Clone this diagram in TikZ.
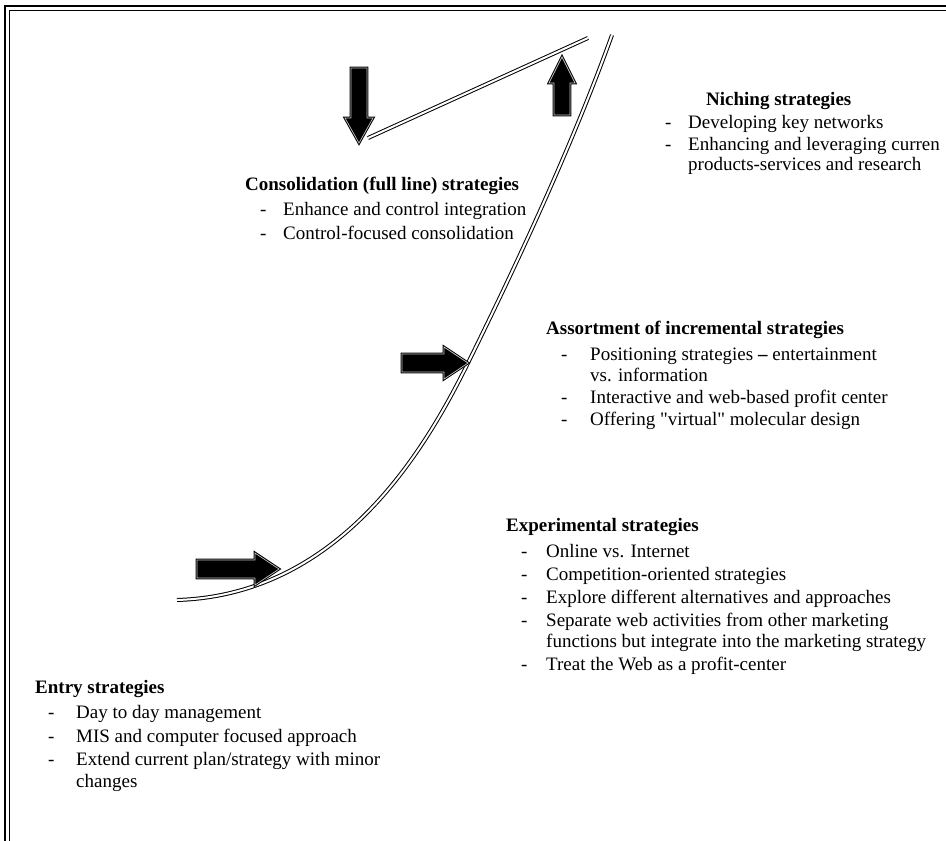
\documentclass[tikz,border=0pt]{standalone}
\usepackage{fontspec}
\setmainfont{Liberation Serif}
\newfontfamily\qfont{Liberation Serif}[Ligatures=TeXOff]
\begin{document}
\begin{tikzpicture}[x=1pt,y=-1pt,
  txt/.style={anchor=base west, inner sep=0pt, font=\fontsize{19}{23}\selectfont},
  hd/.style={anchor=base west, inner sep=0pt, font=\fontsize{19}{23}\selectfont\bfseries},
  dbl/.style={draw=black, line width=1pt, double=white, double distance=2pt},
  blk/.style={fill=black, draw=black, line width=1pt, double=white!75!black, double distance=0.7pt, line join=miter, miter limit=20},
  frameo/.style={line width=2.2pt, line join=miter},
  framei/.style={line width=1pt, line join=miter}]
\useasboundingbox (0,0) rectangle (946,841);
\clip (0,0) rectangle (946,841);
% frame
\draw[frameo] (5,845) -- (5,6) -- (950,6);
\draw[framei] (9.5,845) -- (9.5,10.5) -- (950,10.5);
% curve
\coordinate (c0) at (177,600);
\coordinate (cm) at (468,363);
\coordinate (c1) at (612,35);
\draw[dbl] (c0) .. controls (340,595) and (425,450) .. (cm)
               .. controls (494,310) and (565,166) .. (c1);
% upper line
\coordinate (l0) at (368,138);
\coordinate (l1) at (588,38);
\draw[dbl] (l0) -- (l1);
% down arrow
\filldraw[blk] (351,68) -- (367,68) -- (367,118) -- (373,118) -- (359,143) -- (345,118) -- (351,118) -- cycle;
% up arrow
\filldraw[blk] (554,115) -- (570,115) -- (570,83) -- (575,83) -- (562,57) -- (549,83) -- (554,83) -- cycle;
% middle right arrow
\filldraw[blk] (402,354) -- (444,354) -- (444,347) -- (468,363) -- (444,379) -- (444,372) -- (402,372) -- cycle;
% lower right arrow
\filldraw[blk] (197,560) -- (255,560) -- (255,553) -- (279,569) -- (255,585) -- (255,578) -- (197,578) -- cycle;
% Niching
\node[hd] (nh) at (706,105) {Niching strategies};
\node[txt] (nd1) at (665,128) {-};
\node[txt] (n1) at (688,128) {Developing key networks};
\node[txt] (nd2) at (665,150) {-};
\node[txt] (n2) at (688,150) {Enhancing and leveraging curren};
\node[txt] (n3) at (688,170) {products-services and research};
% Consolidation
\node[hd] (ch) at (245,190) {Consolidation (full line) strategies};
\node[txt] (cd1) at (260,215) {-};
\node[txt] (c1t) at (283,215) {Enhance and control integration};
\node[txt] (cd2) at (260,239) {-};
\node[txt] (c2t) at (283,239) {Control-focused consolidation};
% Assortment
\node[hd] (ah) at (546,334) {Assortment of incremental strategies};
\node[txt] (ad1) at (561,360) {-};
\node[txt] (a1) at (590,360) {Positioning strategies \textbf{--} entertainment};
\node[txt] (a1b) at (590,381) {vs. information};
\node[txt] (ad2) at (561,403) {-};
\node[txt] (a2) at (590,403) {Interactive and web-based profit center};
\node[txt] (ad3) at (561,425) {-};
\node[txt] (a3) at (590,425) {Offering {\qfont"}virtual{\qfont"} molecular design};
% Experimental
\node[hd] (eh) at (506,531) {Experimental strategies};
\node[txt] (ed1) at (521,557) {-};
\node[txt] (e1) at (546,557) {Online vs. Internet};
\node[txt] (ed2) at (521,580) {-};
\node[txt] (e2) at (546,580) {Competition-oriented strategies};
\node[txt] (ed3) at (521,603) {-};
\node[txt] (e3) at (546,603) {Explore different alternatives and approaches};
\node[txt] (ed4) at (521,626) {-};
\node[txt] (e4) at (546,626) {Separate web activities from other marketing};
\node[txt] (e4b) at (546,647) {functions but integrate into the marketing strategy};
\node[txt] (ed5) at (521,670) {-};
\node[txt] (e5) at (546,670) {Treat the Web as a profit-center};
% Entry
\node[hd] (th) at (35,693) {Entry strategies};
\node[txt] (td1) at (48,718) {-};
\node[txt] (t1) at (76,718) {Day to day management};
\node[txt] (td2) at (48,742) {-};
\node[txt] (t2) at (76,742) {MIS and computer focused approach};
\node[txt] (td3) at (48,765) {-};
\node[txt] (t3) at (76,765) {Extend current plan/strategy with minor};
\node[txt] (t3b) at (76,787) {changes};
\end{tikzpicture}
\end{document}
